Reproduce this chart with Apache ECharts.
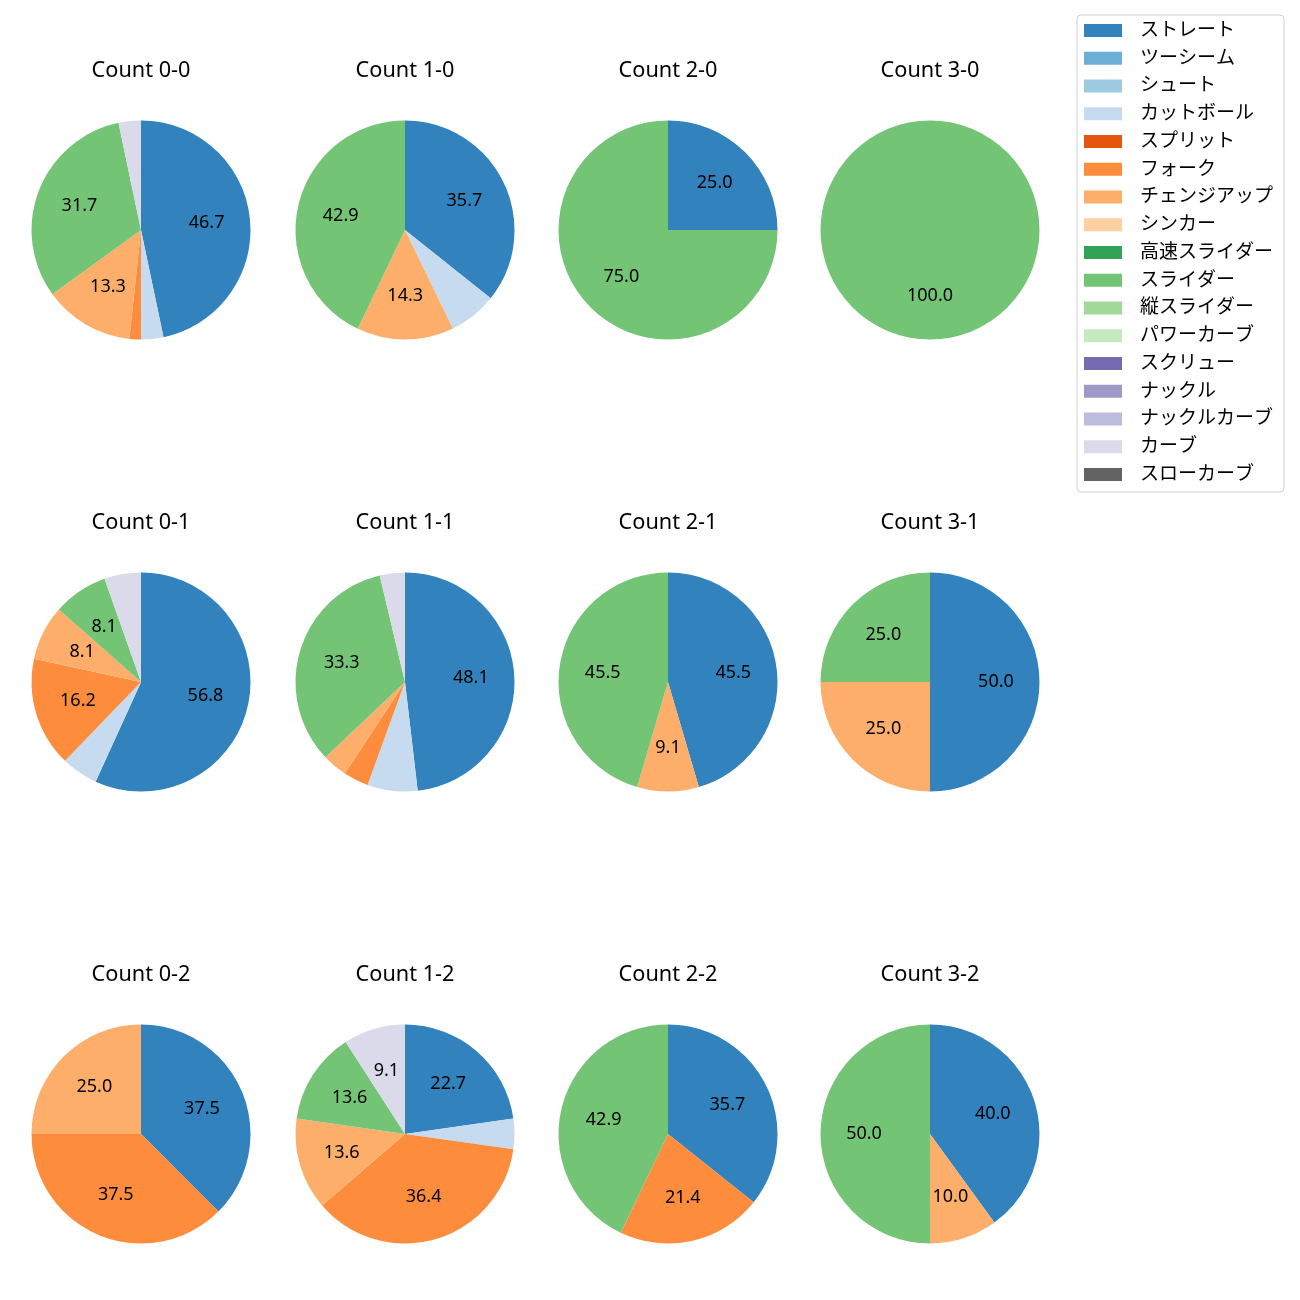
<!DOCTYPE html>
<html>
<head>
<meta charset="utf-8">
<script src="https://cdn.jsdelivr.net/npm/echarts@6/dist/echarts.min.js"></script>
<style>
html,body{margin:0;padding:0;background:#fff;}
#chart{width:1300px;height:1300px;}
</style>
</head>
<body>
<div id="chart"></div>
<script>
// Pitch types (legend order) and colors
const pitchTypes = ['ストレート','ツーシーム','シュート','カットボール','スプリット','フォーク','チェンジアップ','シンカー','高速スライダー','スライダー','縦スライダー','パワーカーブ','スクリュー','ナックル','ナックルカーブ','カーブ','スローカーブ'];
const pitchColors = ['#3182bd','#6baed6','#9ecae1','#c6dbef','#e6550d','#fd8d3c','#fdae6b','#fdd0a2','#31a354','#74c476','#a1d99b','#c7e9c0','#756bb1','#9e9ac8','#bcbddc','#dadaeb','#636363'];

// Panel titles (row-major)
const panelTitles = ['Count 0-0','Count 1-0','Count 2-0','Count 3-0','Count 0-1','Count 1-1','Count 2-1','Count 3-1','Count 0-2','Count 1-2','Count 2-2','Count 3-2'];

// Per-panel pitch types and percentages
const c00Types = ['ストレート','カットボール','フォーク','チェンジアップ','スライダー','カーブ'];
const c00Values = [46.7, 3.3, 1.7, 13.3, 31.7, 3.3];
const c10Types = ['ストレート','カットボール','チェンジアップ','スライダー'];
const c10Values = [35.7, 7.1, 14.3, 42.9];
const c20Types = ['ストレート','スライダー'];
const c20Values = [25.0, 75.0];
const c30Types = ['スライダー'];
const c30Values = [100.0];
const c01Types = ['ストレート','カットボール','フォーク','チェンジアップ','スライダー','カーブ'];
const c01Values = [56.8, 5.4, 16.2, 8.1, 8.1, 5.4];
const c11Types = ['ストレート','カットボール','フォーク','チェンジアップ','スライダー','カーブ'];
const c11Values = [48.1, 7.4, 3.7, 3.7, 33.3, 3.7];
const c21Types = ['ストレート','チェンジアップ','スライダー'];
const c21Values = [45.5, 9.1, 45.5];
const c31Types = ['ストレート','チェンジアップ','スライダー'];
const c31Values = [50.0, 25.0, 25.0];
const c02Types = ['ストレート','フォーク','チェンジアップ'];
const c02Values = [37.5, 37.5, 25.0];
const c12Types = ['ストレート','カットボール','フォーク','チェンジアップ','スライダー','カーブ'];
const c12Values = [22.7, 4.5, 36.4, 13.6, 13.6, 9.1];
const c22Types = ['ストレート','フォーク','スライダー'];
const c22Values = [35.7, 21.4, 42.9];
const c32Types = ['ストレート','チェンジアップ','スライダー'];
const c32Values = [40.0, 10.0, 50.0];

const panelTypes = [c00Types,c10Types,c20Types,c30Types,c01Types,c11Types,c21Types,c31Types,c02Types,c12Types,c22Types,c32Types];
const panelValues = [c00Values,c10Values,c20Values,c30Values,c01Values,c11Values,c21Values,c31Values,c02Values,c12Values,c22Values,c32Values];

// Layout
const colX = [141, 405, 668, 930];
const rowY = [230, 682, 1134];
const titleY = [69, 521, 973];
const R = 109.5;
const labelMin = 7.5;

const latin = "'Noto Sans','Noto Sans CJK JP',sans-serif";
const colorOf = n => pitchColors[pitchTypes.indexOf(n)];

const series = [];
// legend provider series (invisible)
series.push({
  type: 'pie', center: [-500, -500], radius: [0, 0], silent: true,
  label: {show: false}, labelLine: {show: false},
  data: pitchTypes.map((n, i) => ({name: n, value: 1, itemStyle: {color: pitchColors[i]}}))
});
const titles = [];
panelTitles.forEach((t, k) => {
  const c = k % 4, r = Math.floor(k / 4);
  const cx = colX[c], cy = rowY[r];
  const data = panelTypes[k].map((n, i) => ({name: n, value: panelValues[k][i], itemStyle: {color: colorOf(n)}}));
  series.push({
    type: 'pie', center: [cx, cy], radius: [0, R], startAngle: 90, clockwise: true,
    silent: true, label: {show: false}, labelLine: {show: false},
    itemStyle: {borderWidth: 0},
    data: data
  });
  series.push({
    type: 'pie', center: [cx, cy], radius: [R * 0.15, R], startAngle: 90, clockwise: true,
    silent: true, labelLine: {show: false},
    label: {
      show: true, position: 'inside', color: '#000', fontSize: 18, fontFamily: latin,
      formatter: p => p.value > labelMin ? p.value.toFixed(1) : ''
    },
    itemStyle: {color: 'rgba(0,0,0,0)', borderWidth: 0},
    data: panelTypes[k].map((n, i) => ({name: n, value: panelValues[k][i]}))
  });
  titles.push({
    text: t, left: cx, top: titleY[r] - 9, textAlign: 'center', padding: 0,
    textStyle: {fontSize: 21.7, fontWeight: 'normal', color: '#000', fontFamily: latin, lineHeight: 22}
  });
});

const chart = echarts.init(document.getElementById('chart'), null, {renderer: 'canvas'});
chart.setOption({
  animation: false,
  backgroundColor: '#fff',
  title: titles,
  legend: {
    orient: 'vertical', left: 1077, top: 15,
    data: pitchTypes,
    icon: 'rect', itemWidth: 38, itemHeight: 13, itemGap: 8.75,
    padding: [6, 11, 8, 7],
    borderColor: '#d0d0d0', borderWidth: 1, borderRadius: 4,
    selectedMode: false,
    textStyle: {fontSize: 19, color: '#000', fontFamily: latin, padding: [0, 0, 0, 13]}
  },
  series: series
});
</script>
</body>
</html>
